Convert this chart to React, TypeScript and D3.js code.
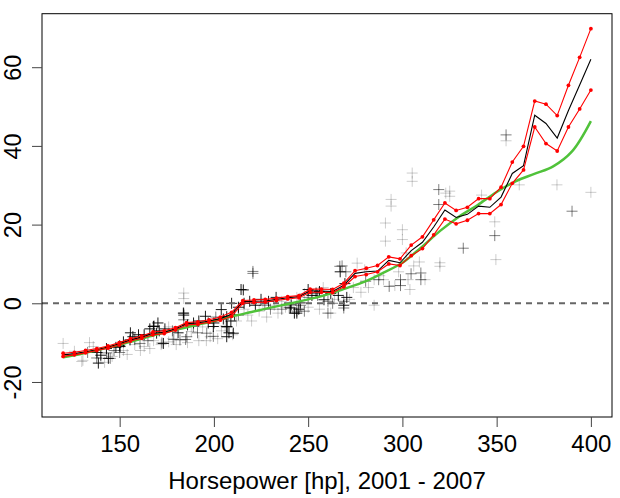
import { useEffect, useRef } from 'react'
import * as d3 from 'd3'

// ─── Data ────────────────────────────────────────────────────────────────────

// evaluation grid (48 points from 120 to 400 hp)
const gridHp = [
  120, 125.96, 131.91, 137.87, 143.83, 149.79, 155.74, 161.7, 167.66, 173.62,
  179.57, 185.53, 191.49, 197.45, 203.4, 209.36, 215.32, 221.28, 227.23, 233.19,
  239.15, 245.11, 251.06, 257.02, 262.98, 268.94, 274.89, 280.85, 286.81, 292.77,
  298.72, 304.68, 310.64, 316.6, 322.55, 328.51, 334.47, 340.43, 346.38, 352.34,
  358.3, 364.26, 370.21, 376.17, 382.13, 388.09, 394.04, 400,
]

const upperVal = [
  -12.7, -12.45, -12.0, -11.5, -10.85, -10.0, -9.0, -8.3, -7.3, -7.0,
  -6.2, -4.9, -4.7, -4.2, -3.5, -2.3, 0.7, 0.85, 1.0, 1.3,
  1.7, 1.95, 3.6, 3.6, 3.5, 5.1, 8.3, 8.9, 9.6, 11.8,
  11.3, 14.8, 16.9, 21.2, 25.5, 23.6, 24.4, 26.6, 26.6, 29.5,
  35.9, 39.9, 51.4, 50.6, 47.7, 55.4, 62.5, 69.8,
]

const lowerVal = [
  -13.5, -13.1, -12.6, -12.0, -11.4, -10.6, -9.6, -8.9, -8.0, -7.7,
  -6.8, -5.5, -5.3, -4.8, -4.3, -3.3, 0.0, 0.2, 0.3, 0.7,
  1.1, 1.4, 2.8, 2.8, 2.7, 4.2, 6.8, 7.3, 8.0, 10.0,
  9.6, 12.1, 13.9, 17.4, 21.4, 20.2, 21.1, 22.8, 22.8, 25.1,
  30.5, 33.9, 44.8, 40.6, 38.7, 44.8, 49.4, 54.2,
]

const fitVal = [
  -13.1, -12.8, -12.3, -11.8, -11.1, -10.3, -9.3, -8.6, -7.6, -7.35,
  -6.5, -5.2, -5.0, -4.5, -3.9, -2.8, 0.35, 0.5, 0.6, 1.0,
  1.4, 1.7, 3.2, 3.1, 3.0, 4.6, 7.6, 8.0, 8.2, 10.9,
  10.3, 13.4, 15.5, 19.4, 23.7, 21.8, 22.6, 24.7, 24.4, 27.0,
  33.0, 35.0, 47.8, 45.7, 42.0, 49.0, 55.5, 62.0,
]

// smooth reference curve
const smoothHp = [120, 130, 140, 150, 160, 170, 180, 190, 200, 210, 220, 230, 240, 250, 260, 270, 280, 290, 300, 310, 320, 330, 340, 350, 360, 370, 380, 390, 400]
const smoothVal = [-13.7, -12.8, -11.7, -10.5, -9.2, -7.9, -6.7, -5.6, -4.5, -3.3, -2.2, -1.1, -0.1, 1.0, 2.2, 3.8, 5.5, 7.8, 10.3, 14.2, 18.4, 22.0, 25.0, 28.3, 31.0, 32.9, 34.8, 38.6, 46.3]

// observations [hp, value], grouped by how dark they show up
const lightPts: [number, number][] = [
  [120, -10.2], [126, -12.2], [129.9, -14.8], [130.5, -14.5], [134, -10.0], [140, -14.0], [146, -13.5],
  [152, -12.0], [158, -10.5], [163, -11.0], [168, -9.5], [172, -10.5], [176, -9.8], [178, -9.0],
  [184, 2.6], [184, 1.2], [188, -7.2], [194, -6.0], [198, -8.5], [202, -9.0], [206, -5.8], [212, -4.5],
  [218, -3.0], [224, -2.0], [228, -3.5], [232, -0.5], [236, 0.5], [238, -1.0], [244, 1.5], [248, 2.5],
  [256, -1.5], [262, -2.5], [272, 1.0], [276, 10.2], [278, 2.8], [282, 4.0], [285, 6.0], [288, 7.0],
  [291, 20.4], [291, 15.8], [294, 26.4], [294, 24.7], [298, 8.0], [300, 18.7], [300, 16.2], [302, 12.8],
  [305.2, 33.1], [305.2, 31.0], [306, 9.5], [309, 10.5], [319.9, 10.3], [319.9, 9.4], [325.1, 28.5],
  [325.1, 27.2], [323, 28.0], [342, 27.5], [349, 20.7], [349.6, 11.1], [355, 41.3], [362, 30.1],
  [382, 30.1], [400, 28.2], [296, 4.5], [304, 3.5], [312, 6.0], [176, -6.0], [192, -9.5], [210, -8.0],
  [226, 0.0], [285, -0.5], [136, -11.0], [142, -15.0], [154, -13.0], [161, -12.0], [166, -11.5],
  [180, -10.5], [186, -10.0], [196, -9.5], [204, -7.0], [216, -1.5], [220, -4.5], [234, -2.5],
  [250, -1.0], [258, 4.0], [264, 1.0], [274, 4.0], [280, 8.5], [290, 6.0], [303, 6.0],
]

const midPts: [number, number][] = [
  [319.3, 28.9], [319.3, 25.1], [332.3, 14.0], [349, 17.2], [355, 42.8], [390, 23.4], [268, 9.5],
  [270, 8.0], [266.8, 9.4], [299, 6.0], [299, 4.5], [304.6, 7.5], [309.8, 7.7], [309.8, 6.0], [293, 4.3],
  [287.4, 6.0], [280.5, 5.6], [268.9, -1.2], [268.9, 0.5], [260.5, 0.5], [260.5, -2.5], [220.7, 8.1],
  [220.7, 7.6], [184, -2.5], [184, -4.2], [178.7, -9.2], [185, -9.2], [199.7, -8.4], [191.3, -7.5],
  [150, -12.5], [137.8, -13.9], [143, -12.6], [145, -14.0], [158, -9.2], [172.4, -10.1], [165, -9.5],
  [213, -3.0], [240, -1.0], [244, -2.0], [246, -0.5], [250, 1.5], [255, 2.0], [230, -1.5],
  [160.8, -10.2], [182, -9.3], [185.6, -8.5], [189.1, -5.9], [196.2, -7.6], [133, -12.5], [147, -12.0],
  [236, -1.5], [248, -2.0], [263, 0.0], [227, -0.5], [201, -3.5], [178, -7.0],
]

const darkPts: [number, number][] = [
  [138, -12.5], [140, -13.2], [143, -11.5], [148, -11.2], [150, -10.8], [152, -9.8], [155.7, -7.5],
  [157, -8.5], [160, -8.0], [163, -8.0], [166, -6.5], [168.2, -5.8], [170.3, -5.0], [171, -7.0],
  [174, -6.5], [181, -7.5], [184, -3.0], [186, -5.5], [189.2, -5.0], [192, -4.5], [195.5, -3.3],
  [197, -5.0], [200, -5.0], [203.9, -1.6], [205, -4.0], [207, -6.0], [208, -7.5], [209, -4.5],
  [211, -3.0], [213, -1.0], [214.4, 3.5], [216, 0.0], [219, 0.5], [222, -0.5], [225, 1.0], [229, 0.5],
  [233, 1.5], [240.6, -1.2], [242.7, -2.5], [245, -1.5], [245.8, 0.1], [250, 3.5], [252, 2.0],
  [254.2, 2.6], [256, 3.0], [258.4, 0.9], [262, 2.5], [266, 2.0], [267, 8.0], [268.9, -0.5],
  [138.7, -15.2], [144, -14.0], [150.2, -11.0], [155.5, -9.3], [167.9, -5.9], [169.6, -7.6],
  [173.2, -10.2], [183.8, -2.5], [199.7, -5.9], [206.8, -5.9], [209.4, 0.0], [210.3, -7.6],
  [206.8, -3.4], [206.8, -8.5], [215.6, 3.4], [241, -0.4], [244, -2.5], [269.5, 5.0], [270.5, 1.5],
]

const xTicks = [150, 200, 250, 300, 350, 400]
const yTicks = [-20, 0, 20, 40, 60]
const xTitle = 'Horsepower [hp], 2001 - 2007'

// ─── Component ───────────────────────────────────────────────────────────────

const W = 620
const H = 498
const FONT = '"Liberation Sans", Arial, Helvetica, sans-serif'

export default function App() {
  const ref = useRef<SVGSVGElement>(null)

  useEffect(() => {
    if (!ref.current) return
    const svg = d3.select(ref.current)
    svg.selectAll('*').remove()

    const plot = { left: 42, right: 612, top: 13.7, bottom: 417 }
    const x = d3.scaleLinear().domain([108.8, 411.2]).range([plot.left, plot.right])
    const y = d3.scaleLinear().domain([-28.9, 73.6]).range([plot.bottom, plot.top])

    // crosses
    const crossGroups: [[number, number][], number][] = [
      [lightPts, 0.2],
      [midPts, 0.5],
      [darkPts, 0.9],
    ]
    const cg = svg.append('g')
    crossGroups.forEach(([pts, op]) => {
      cg.selectAll(null)
        .data(pts)
        .join('path')
        .attr('d', (d) => {
          const cx = x(d[0])
          const cy = y(d[1])
          return `M${cx - 5.5},${cy}H${cx + 5.5}M${cx},${cy - 5.5}V${cy + 5.5}`
        })
        .attr('stroke', '#000')
        .attr('stroke-opacity', op)
        .attr('stroke-width', 1)
        .attr('fill', 'none')
    })

    // zero reference
    svg.append('line')
      .attr('x1', plot.left)
      .attr('x2', plot.right)
      .attr('y1', y(0))
      .attr('y2', y(0))
      .attr('stroke', '#666')
      .attr('stroke-width', 2)
      .attr('stroke-dasharray', '6,5')

    // smooth curve
    const smoothLine = d3.line<number>()
      .x((_, i) => x(smoothHp[i]))
      .y((d) => y(d))
      .curve(d3.curveCatmullRom)
    svg.append('path')
      .attr('d', smoothLine(smoothVal))
      .attr('fill', 'none')
      .attr('stroke', '#50c23a')
      .attr('stroke-width', 2.5)

    const gridLine = d3.line<number>()
      .x((_, i) => x(gridHp[i]))
      .y((d) => y(d))

    svg.append('path')
      .attr('d', gridLine(fitVal))
      .attr('fill', 'none')
      .attr('stroke', '#000')
      .attr('stroke-width', 1.1)

    ;[upperVal, lowerVal].forEach((vals) => {
      svg.append('path')
        .attr('d', gridLine(vals))
        .attr('fill', 'none')
        .attr('stroke', '#ff0000')
        .attr('stroke-width', 1.1)
      svg.append('g')
        .selectAll('circle')
        .data(vals)
        .join('circle')
        .attr('cx', (_, i) => x(gridHp[i]))
        .attr('cy', (d) => y(d))
        .attr('r', 1.9)
        .attr('fill', '#ff0000')
    })

    // box
    svg.append('rect')
      .attr('x', plot.left)
      .attr('y', plot.top)
      .attr('width', plot.right - plot.left)
      .attr('height', plot.bottom - plot.top)
      .attr('fill', 'none')
      .attr('stroke', '#000')
      .attr('stroke-width', 1)

    // x axis
    svg.append('g')
      .attr('transform', `translate(0,${plot.bottom})`)
      .call(d3.axisBottom(x).tickValues(xTicks).tickSize(10).tickPadding(8.3).tickFormat((v) => `${v}`))
      .call((sel) => sel.select('.domain').remove())
      .call((sel) => sel.selectAll('line').attr('stroke', '#444'))
      .call((sel) =>
        sel.selectAll('text')
          .attr('font-size', 24)
          .attr('font-family', FONT)
          .attr('fill', '#000')
      )

    // y axis, labels rotated like base R
    svg.append('g')
      .attr('transform', `translate(${plot.left},0)`)
      .call(d3.axisLeft(y).tickValues(yTicks).tickSize(10).tickFormat((v) => `${v}`))
      .call((sel) => sel.select('.domain').remove())
      .call((sel) => sel.selectAll('line').attr('stroke', '#444'))
      .call((sel) =>
        sel.selectAll('text')
          .attr('x', 0)
          .attr('y', 0)
          .attr('dy', 0)
          .attr('text-anchor', 'middle')
          .attr('transform', 'translate(-21.5,0) rotate(-90)')
          .attr('font-size', 23.5)
          .attr('font-family', FONT)
          .attr('fill', '#000')
      )

    svg.append('text')
      .attr('x', (plot.left + plot.right) / 2)
      .attr('y', 489)
      .attr('text-anchor', 'middle')
      .attr('font-size', 24)
      .attr('font-family', FONT)
      .attr('fill', '#000')
      .text(xTitle)
  }, [])

  return (
    <svg
      ref={ref}
      width={W}
      height={H}
      viewBox={`0 0 ${W} ${H}`}
      style={{ position: 'absolute', left: 0, top: 0, background: '#fff', display: 'block' }}
    />
  )
}
